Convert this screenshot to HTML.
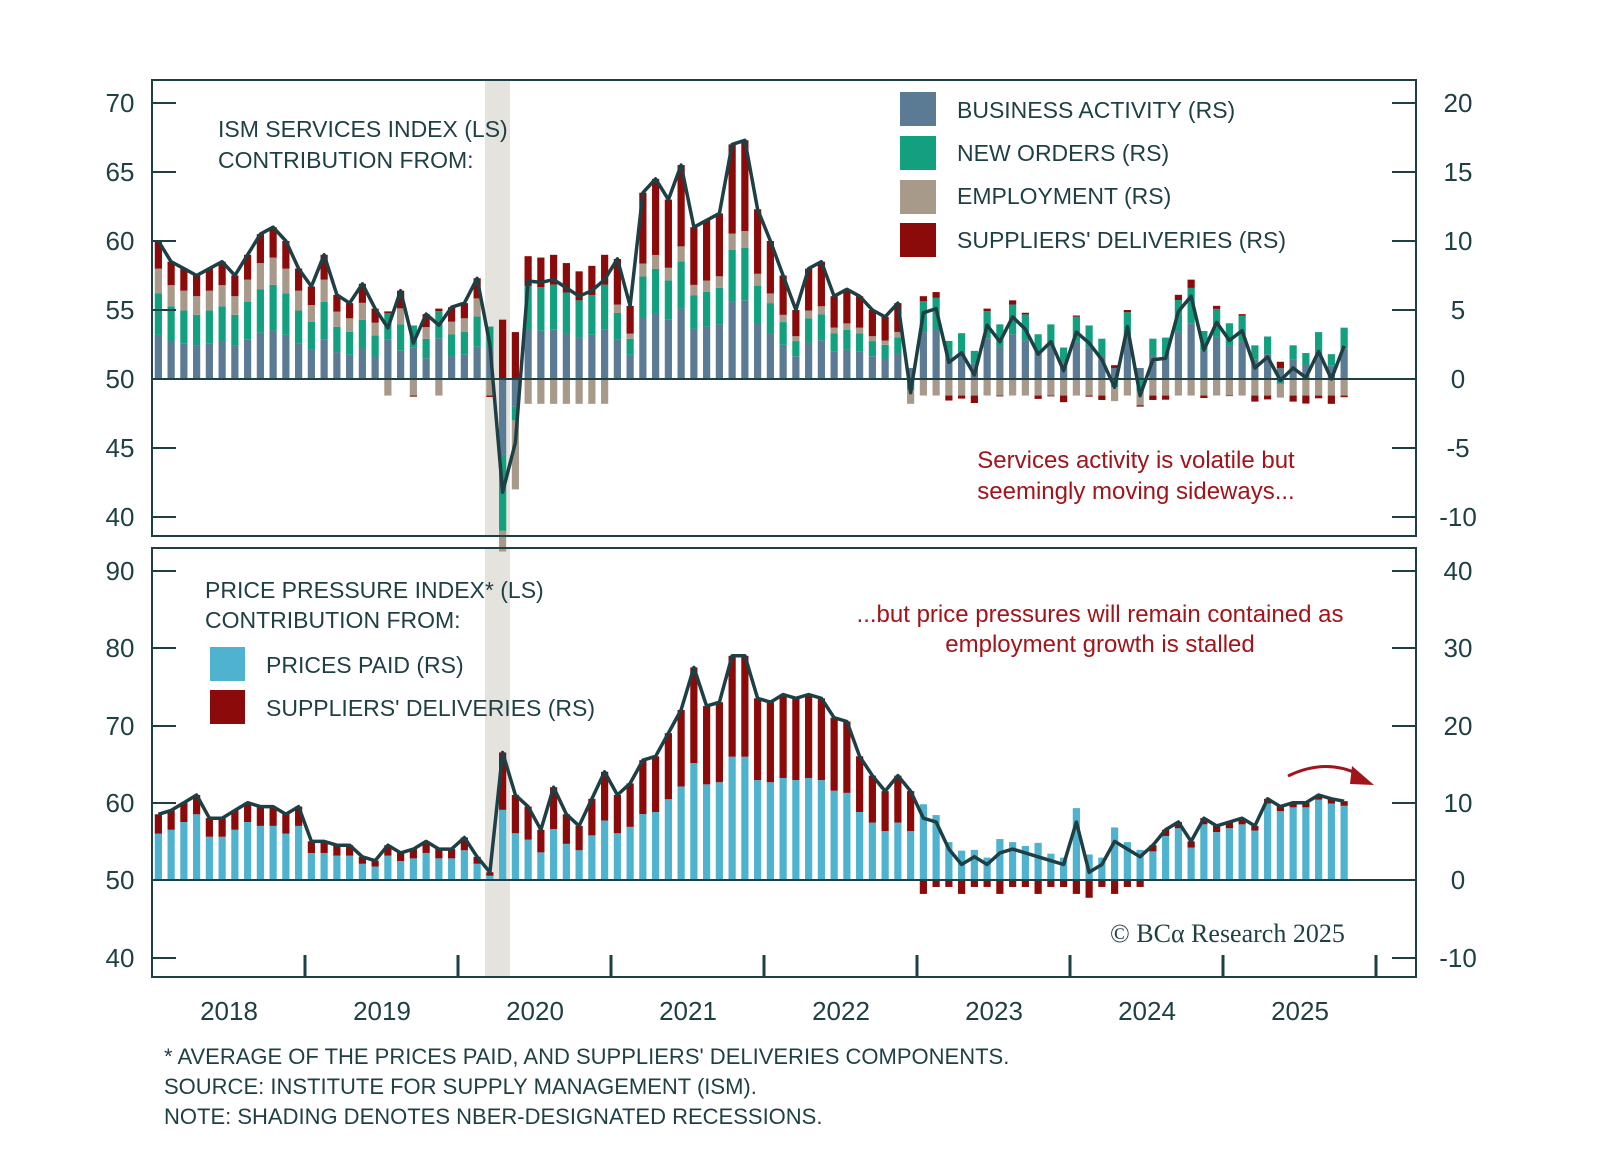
<!DOCTYPE html>
<html><head><meta charset="utf-8"><style>
html,body{margin:0;padding:0;background:#fff;}
body{width:1600px;height:1169px;overflow:hidden;font-family:"Liberation Sans",sans-serif;}
</style></head><body>
<svg id="c" width="1600" height="1169" xmlns="http://www.w3.org/2000/svg" font-family="Liberation Sans, sans-serif">
<rect x="485" y="81" width="25" height="455" fill="#e4e3de"/>
<rect x="485" y="549" width="25" height="428" fill="#e4e3de"/>
<g id="bars"></g>
<rect x="152" y="80" width="1264" height="456" fill="none" stroke="#1e3f44" stroke-width="2"/>
<rect x="152" y="548" width="1264" height="429" fill="none" stroke="#1e3f44" stroke-width="2"/>
<line x1="152" y1="379" x2="1416" y2="379" stroke="#1e3f44" stroke-width="2"/>
<line x1="152" y1="880" x2="1416" y2="880" stroke="#1e3f44" stroke-width="2"/>
<g id="ax" fill="#1e3f44" font-size="26"></g>
<g fill="#1e3f44" font-size="23">
<text x="218" y="137">ISM SERVICES INDEX (LS)</text>
<text x="218" y="168">CONTRIBUTION FROM:</text>
<rect x="900" y="92" width="36" height="34" fill="#5b7a93"/>
<rect x="900" y="136" width="36" height="34" fill="#13a07f"/>
<rect x="900" y="180" width="36" height="34" fill="#a89a8a"/>
<rect x="900" y="223" width="36" height="34" fill="#8b0a0a"/>
<text x="957" y="118">BUSINESS ACTIVITY (RS)</text>
<text x="957" y="161">NEW ORDERS (RS)</text>
<text x="957" y="204">EMPLOYMENT (RS)</text>
<text x="957" y="248">SUPPLIERS' DELIVERIES (RS)</text>
<text x="205" y="598">PRICE PRESSURE INDEX* (LS)</text>
<text x="205" y="628">CONTRIBUTION FROM:</text>
<rect x="210" y="647" width="35" height="34" fill="#4fb3cf"/>
<rect x="210" y="690" width="35" height="34" fill="#8b0a0a"/>
<text x="266" y="673">PRICES PAID (RS)</text>
<text x="266" y="716">SUPPLIERS' DELIVERIES (RS)</text>
<text x="164" y="1064" font-size="22">* AVERAGE OF THE PRICES PAID, AND SUPPLIERS' DELIVERIES COMPONENTS.</text>
<text x="164" y="1094" font-size="22">SOURCE: INSTITUTE FOR SUPPLY MANAGEMENT (ISM).</text>
<text x="164" y="1124" font-size="22">NOTE: SHADING DENOTES NBER-DESIGNATED RECESSIONS.</text>
</g>
<g fill="#a0141a" font-size="24" text-anchor="middle">
<text x="1136" y="468">Services activity is volatile but</text>
<text x="1136" y="499">seemingly moving sideways...</text>
<text x="1100" y="622">...but price pressures will remain contained as</text>
<text x="1100" y="652">employment growth is stalled</text>
</g>
<path d="M1288 776 Q1325 758 1358 774" fill="none" stroke="#a0141a" stroke-width="3"/>
<polygon points="1352,766 1374,785 1350,784" fill="#a0141a"/>
<text x="1110" y="942" font-size="26" fill="#1e3f44" font-family="Liberation Serif, serif">© BCα Research 2025</text>
</svg>
<script>
(function(){
var NS="http://www.w3.org/2000/svg";
function el(p,t,a,txt){var e=document.createElementNS(NS,t);for(var k in a)e.setAttribute(k,a[k]);if(txt!==undefined)e.textContent=txt;p.appendChild(e);return e;}
var bars=document.getElementById('bars'),ax=document.getElementById('ax');
[[70,103],[65,172],[60,241],[55,310],[50,379],[45,448],[40,517]].forEach(function(a,i){var v=a[0],y=a[1];
 el(ax,'text',{x:120,y:y+9,'text-anchor':'middle'},v);
 el(ax,'line',{x1:152,y1:y,x2:176,y2:y,stroke:'#1e3f44','stroke-width':2});
 el(ax,'line',{x1:1392,y1:y,x2:1416,y2:y,stroke:'#1e3f44','stroke-width':2});
 el(ax,'text',{x:1458,y:y+9,'text-anchor':'middle'},[20,15,10,5,0,-5,-10][i]);
});
[[90,571],[80,648],[70,726],[60,803],[50,880],[40,958]].forEach(function(a,i){var v=a[0],y=a[1];
 el(ax,'text',{x:120,y:y+9,'text-anchor':'middle'},v);
 el(ax,'line',{x1:152,y1:y,x2:176,y2:y,stroke:'#1e3f44','stroke-width':2});
 el(ax,'line',{x1:1392,y1:y,x2:1416,y2:y,stroke:'#1e3f44','stroke-width':2});
 el(ax,'text',{x:1458,y:y+9,'text-anchor':'middle'},[40,30,20,10,0,-10][i]);
});
for(var k=1;k<=8;k++){var x=152+k*153;el(ax,'line',{x1:x,y1:955,x2:x,y2:977,stroke:'#1e3f44','stroke-width':3});}
for(k=0;k<8;k++){el(ax,'text',{x:229+k*153,y:1020,'text-anchor':'middle'},2018+k);}
var ism=[60,58.5,58,57.5,58,58.5,57.5,59,60.5,61,60,58,
56.7,59,56.1,55.5,56.9,55.1,53.7,56.4,52.6,54.7,53.9,55.2,
55.5,57.3,52.5,41.8,45.4,57.1,57,57.2,56.6,56,56.4,57.2,
58.7,55.3,63.5,64.5,63,65.5,61,61.5,62,67,67.3,62.3,
60,57.5,55,58,58.5,56,56.5,56,55,54.5,55.5,49,
54.8,55.1,51.2,51.9,50.3,53.9,52.7,54.5,53.6,51.8,52.7,50.6,
53.4,52.6,51.4,49.4,53.8,48.8,51.4,51.5,54.9,56,52.1,54.1,
52.8,53.5,50.8,51.6,49.9,50.8,50.1,52,50,52.4];
var ppi=[58.5,59,60,61,58,58,59,60,59.5,59.5,58.5,59.5,
55,55,54.5,54.5,53,52.5,54.5,53.5,54,55,54,54,
55.5,53,51,66.5,61,59.5,56.5,62,58.5,57,60.5,64,
61,62.5,65.5,66,69,72,77.5,72.5,73,79,79,73.5,
73,74,73.5,74,73.5,71,70.5,66,63.5,61.5,63.5,61.5,
58,57.5,54,52,53,52,53.5,54,53.5,53,52.5,52,
57.5,51,52,55,54,53,54.5,56.5,57.5,55,58,57,
57.5,58,57,60.5,59.5,60,60,61,60.5,60.2];
var n=Math.min(ism.length,ppi.length);
function X(i){return 152+(i+0.5)*12.75;}
var c1=['#5b7a93','#13a07f','#a89a8a','#8b0a0a'];
function stack(x,vals,cols,y0,s){var up=0,dn=0;vals.forEach(function(v,j){if(v>=0){el(bars,'rect',{x:x-3.6,y:y0-(up+v)*s,width:7.2,height:v*s,fill:cols[j]});up+=v;}else{el(bars,'rect',{x:x-3.6,y:y0+dn*s,width:7.2,height:-v*s,fill:cols[j]});dn+=-v;}});}
var pts=[];
for(var i=0;i<n;i++){var t=ism[i]-50,ba,no,em,sd;
 if(i==27){ba=-5.5;no=-5.5;em=-1.5;sd=t-ba-no-em;}
 else if(i==28){ba=-2;no=-1;em=-5;sd=t-ba-no-em;}
 else if(i>=29&&i<=35){ba=t*0.5;no=t*0.45;em=-1.8;sd=t-ba-no-em;}
 else if(t>=4&&i<60){if(i>=36){ba=t*0.33;no=t*0.22;em=t*0.07;sd=t-ba-no-em;}else{ba=t*0.32;no=t*0.3;em=t*0.18;sd=t-ba-no-em;}}
 else if(t>=0){ba=t*0.5+1;no=t*0.3+0.8;em=-1.2;sd=t-ba-no-em;}
 else {ba=0.8;no=t*0.5-0.3;em=-1;sd=t-ba-no-em;}
 stack(X(i),[ba,no,em,sd],c1,379,13.8);pts.push(X(i).toFixed(1)+','+(379-t*13.8).toFixed(1));}
el(bars,'polyline',{points:pts.join(' '),fill:'none',stroke:'#1e3f44','stroke-width':3.5,'stroke-linejoin':'round'});
pts=[];
for(i=0;i<n;i++){var t2=ppi[i]-50,s2;
 if(i>=26&&i<=59)s2=t2*0.45;else if(i>=60&&i<=77)s2=(i%3==0?-1.8:-0.9);else if(i>=78)s2=(i<86?0.8:0.6);else s2=Math.min(2.5,t2*0.3);
 if(i==73){s2=-2.3;}
 var pp=t2-s2;if(pp<0){pp=t2;s2=0;}
 stack(X(i),[pp,s2],['#4fb3cf','#8b0a0a'],880,7.73);pts.push(X(i).toFixed(1)+','+(880-t2*7.73).toFixed(1));}
el(bars,'polyline',{points:pts.join(' '),fill:'none',stroke:'#1e3f44','stroke-width':3.5,'stroke-linejoin':'round'});
})();
</script>
</body></html>
